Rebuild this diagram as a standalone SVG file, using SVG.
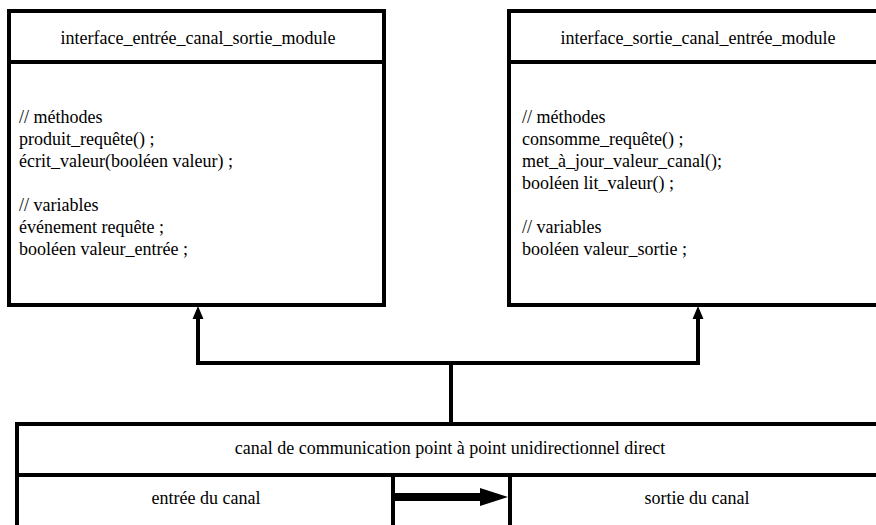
<svg xmlns="http://www.w3.org/2000/svg" width="876" height="525" viewBox="0 0 876 525">
  <style>
    .box { fill: #ffffff; stroke: #000000; stroke-width: 4; }
    .rule { stroke: #000000; stroke-width: 4; fill: none; }
    .wire { stroke: #000000; stroke-width: 4; fill: none; }
    .c { text-anchor: middle; }
  </style>

  <rect width="876" height="525" fill="#ffffff"/>

  <g font-family="'Liberation Serif', 'Times New Roman', serif" font-size="18" fill="#000000">
    <!-- input interface of the channel -->
    <g id="interface_entree">
      <rect class="box" x="9" y="11" width="375" height="294"/>
      <line class="rule" x1="9" y1="62" x2="384" y2="62"/>
      <text class="c" x="198" y="44">interface_entrée_canal_sortie_module</text>
      <text x="19" y="123">// méthodes</text>
      <text x="19" y="145">produit_requête() ;</text>
      <text x="19" y="167">écrit_valeur(booléen valeur) ;</text>
      <text x="19" y="211">// variables</text>
      <text x="19" y="233">événement requête ;</text>
      <text x="19" y="255">booléen valeur_entrée ;</text>
    </g>

    <!-- output interface of the channel -->
    <g id="interface_sortie">
      <rect class="box" x="509" y="11" width="378" height="294"/>
      <line class="rule" x1="509" y1="62" x2="887" y2="62"/>
      <text class="c" x="698" y="44">interface_sortie_canal_entrée_module</text>
      <text x="522" y="123">// méthodes</text>
      <text x="522" y="145">consomme_requête() ;</text>
      <text x="522" y="167">met_à_jour_valeur_canal();</text>
      <text x="522" y="189">booléen lit_valeur() ;</text>
      <text x="522" y="233">// variables</text>
      <text x="522" y="255">booléen valeur_sortie ;</text>
    </g>

    <!-- the channel itself -->
    <g id="canal">
      <rect class="box" x="17" y="424" width="868" height="110"/>
      <line class="rule" x1="17" y1="475" x2="885" y2="475"/>
      <line class="rule" x1="393" y1="475" x2="393" y2="530"/>
      <line class="rule" x1="510" y1="475" x2="510" y2="530"/>
      <text class="c" x="450" y="454">canal de communication point à point unidirectionnel direct</text>
    </g>

    <g id="entree_canal">
      <text class="c" x="206" y="504">entrée du canal</text>
    </g>

    <g id="sortie_canal">
      <text class="c" x="697" y="504">sortie du canal</text>
    </g>
  </g>

  <!-- connectors -->
  <g id="connecteurs">
    <path class="wire" d="M451 422 V363 M196 363 H700 M198 363 V316 M698 363 V316"/>
    <path d="M198 306 L203.5 319 L192.5 319 Z M698 306 L703.5 319 L692.5 319 Z" fill="#000000"/>
    <!-- data flow from input to output of the channel -->
    <rect x="395" y="493" width="87" height="8" fill="#000000"/>
    <path d="M480 488 L508 497 L480 506 Z" fill="#000000"/>
  </g>
</svg>
